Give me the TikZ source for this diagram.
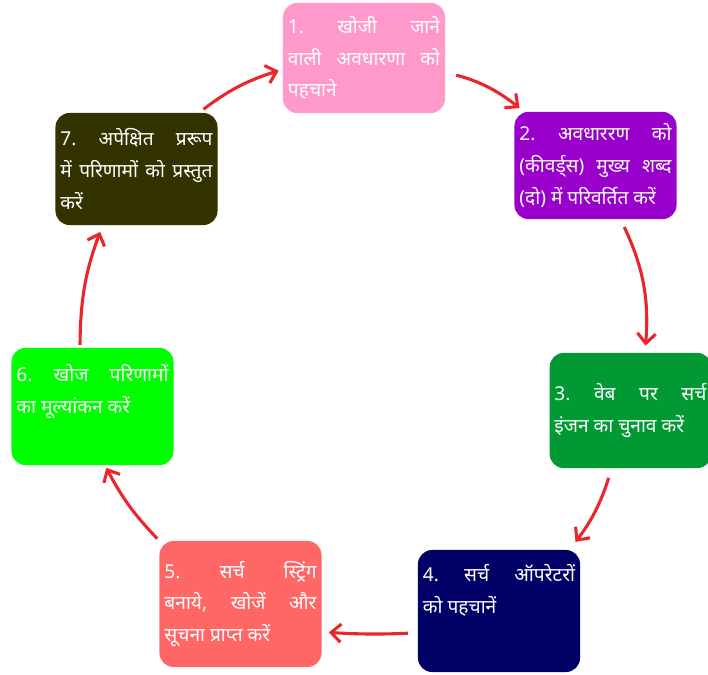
\documentclass[tikz,border=0pt]{standalone}
\usepackage{fontspec}
\newfontfamily\hindi[Script=Devanagari]{Noto Sans}
\usetikzlibrary{arrows.meta}

\definecolor{pinkbox}{HTML}{FF99CC}
\definecolor{purplebox}{HTML}{9900CC}
\definecolor{greenbox}{HTML}{009933}
\definecolor{navybox}{HTML}{000066}
\definecolor{salmonbox}{HTML}{FF6666}
\definecolor{limebox}{HTML}{00FF00}
\definecolor{olivebox}{HTML}{333300}
\definecolor{arrowred}{HTML}{E8262B}

\begin{document}
\begin{tikzpicture}[x=0.025cm,y=-0.025cm,
    stage/.style={rounded corners=10pt, text=white, minimum width=4.05cm,
        text width=3.8cm, inner xsep=0.12cm, align=justify,
        font=\hindi\frenchspacing\fontsize{13.6}{22.5}\selectfont},
    flow/.style={arrowred, line width=2.2pt, -{Straight Barb[length=7pt,width=13pt]}}]
    \useasboundingbox (0,0) rectangle (708,675);

    % steps, clockwise from the top
    \node[stage, fill=pinkbox, minimum height=2.75cm] (s1) at (364,58)
        {1. खोजी जाने\linebreak वाली अवधारणा को\linebreak पहचाने};
    \node[stage, fill=purplebox, minimum height=2.68cm] (s2) at (595.5,165.5)
        {2. अवधाररण को\linebreak (कीवर्ड्स) मुख्य शब्द\linebreak (दो) में परिवर्तित करें};
    \node[stage, fill=greenbox, minimum height=2.88cm, minimum width=3.88cm] (s3) at (630.5,410.5)
        {3. वेब पर सर्च\linebreak इंजन का चुनाव करें};
    \node[stage, fill=navybox, minimum height=3.05cm] (s4) at (499,611)
        {4. सर्च ऑपरेटरों\linebreak को पहचानें\\[0.3cm]};
    \node[stage, fill=salmonbox, minimum height=3.15cm] (s5) at (240.5,604)
        {5. सर्च स्ट्रिंग\linebreak बनाये, खोजें और\linebreak सूचना प्राप्त करें};
    \node[stage, fill=limebox, minimum height=2.93cm] (s6) at (92.5,406.5)
        {6. खोज परिणामों\linebreak का मूल्यांकन करें\\[0.1cm]};
    \node[stage, fill=olivebox, minimum height=2.8cm] (s7) at (136.5,169)
        {7. अपेक्षित प्ररूप\linebreak में परिणामों को प्रस्तुत\linebreak करें};

    % red arrows round the cycle
    \draw[flow, shorten <=8pt, shorten >=4pt] (s1.-10) to[bend left=12] (s2.143);
    \draw[flow, shorten <=6pt, shorten >=5pt] (s2.-65) to[bend left=15] (s3.76);
    \draw[flow, shorten <=7pt, shorten >=7pt] (s3.-108) to[bend left=10] (s4.41);
    \draw[flow, shorten <=7pt, shorten >=5pt] (s4.195) to[bend left=3] (s5.-19);
    \draw[flow, shorten <=2pt, shorten >=2pt] (s5.north west) to[bend left=8] (s6.-78);
    \draw[flow, shorten <=2pt, shorten >=5pt] (s6.102) to[bend left=10] (s7.-121);
    \draw[flow, shorten <=4pt, shorten >=3pt] (s7.42) to[bend left=10] (s1.188);
\end{tikzpicture}
\end{document}
